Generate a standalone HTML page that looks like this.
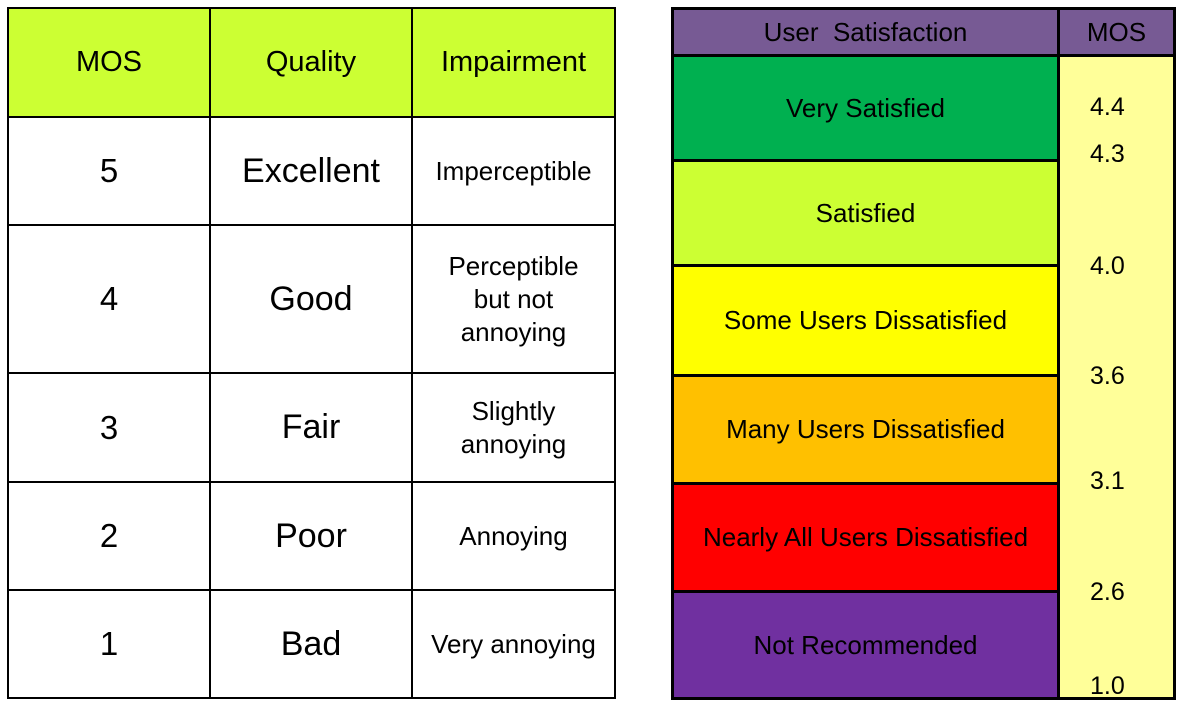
<!DOCTYPE html>
<html><head><style>
body{margin:0;width:1179px;height:704px;background:#fff;position:relative;overflow:hidden;font-family:"Liberation Sans",Arial,sans-serif;color:#000}
.c{position:absolute;box-sizing:border-box;display:flex;align-items:center;justify-content:center;text-align:center;border:2px solid #000}
.t{position:absolute;font-size:25px;left:1090px}
</style></head><body>
<div class="c" style="left:7px;top:7px;width:204px;height:111px;background:#ccff33;font-size:29px">MOS</div>
<div class="c" style="left:209px;top:7px;width:204px;height:111px;background:#ccff33;font-size:29px">Quality</div>
<div class="c" style="left:411px;top:7px;width:205px;height:111px;background:#ccff33;font-size:29px">Impairment</div>

<div class="c" style="left:7px;top:116px;width:204px;height:110px;font-size:33px">5</div>
<div class="c" style="left:209px;top:116px;width:204px;height:110px;font-size:34px">Excellent</div>
<div class="c" style="left:411px;top:116px;width:205px;height:110px;font-size:26px">Imperceptible</div>

<div class="c" style="left:7px;top:224px;width:204px;height:150px;font-size:33px">4</div>
<div class="c" style="left:209px;top:224px;width:204px;height:150px;font-size:34px">Good</div>
<div class="c" style="left:411px;top:224px;width:205px;height:150px;font-size:26px;line-height:33px">Perceptible<br>but not<br>annoying</div>

<div class="c" style="left:7px;top:372px;width:204px;height:111px;font-size:33px">3</div>
<div class="c" style="left:209px;top:372px;width:204px;height:111px;font-size:34px">Fair</div>
<div class="c" style="left:411px;top:372px;width:205px;height:111px;font-size:26px;line-height:33px">Slightly<br>annoying</div>

<div class="c" style="left:7px;top:481px;width:204px;height:110px;font-size:33px">2</div>
<div class="c" style="left:209px;top:481px;width:204px;height:110px;font-size:34px">Poor</div>
<div class="c" style="left:411px;top:481px;width:205px;height:110px;font-size:26px">Annoying</div>

<div class="c" style="left:7px;top:589px;width:204px;height:110px;font-size:33px">1</div>
<div class="c" style="left:209px;top:589px;width:204px;height:110px;font-size:34px">Bad</div>
<div class="c" style="left:411px;top:589px;width:205px;height:110px;font-size:26px">Very annoying</div>

<div class="c" style="left:671px;top:7px;width:389px;height:50px;background:#775a94;font-size:26px;border-width:3px">User&nbsp; Satisfaction</div>
<div class="c" style="left:1057px;top:7px;width:119px;height:50px;background:#775a94;font-size:26px;border-width:3px">MOS</div>
<div class="c" style="left:1057px;top:54px;width:119px;height:646px;background:#ffff99;border-width:3px"></div>
<div class="c" style="left:671px;top:54px;width:389px;height:108px;background:#00b050;font-size:26px;border-width:3px">Very Satisfied</div>
<div class="c" style="left:671px;top:159px;width:389px;height:108px;background:#ccff33;font-size:26px;border-width:3px">Satisfied</div>
<div class="c" style="left:671px;top:264px;width:389px;height:113px;background:#ffff00;font-size:26px;border-width:3px">Some Users Dissatisfied</div>
<div class="c" style="left:671px;top:374px;width:389px;height:111px;background:#ffc000;font-size:26px;border-width:3px">Many Users Dissatisfied</div>
<div class="c" style="left:671px;top:482px;width:389px;height:111px;background:#ff0000;font-size:26px;border-width:3px">Nearly All Users Dissatisfied</div>
<div class="c" style="left:671px;top:590px;width:389px;height:110px;background:#7030a0;font-size:26px;border-width:3px">Not Recommended</div>

<div class="t" style="top:93px">4.4</div>
<div class="t" style="top:140px">4.3</div>
<div class="t" style="top:252px">4.0</div>
<div class="t" style="top:362px">3.6</div>
<div class="t" style="top:467px">3.1</div>
<div class="t" style="top:578px">2.6</div>
<div class="t" style="top:672px">1.0</div>
</body></html>
